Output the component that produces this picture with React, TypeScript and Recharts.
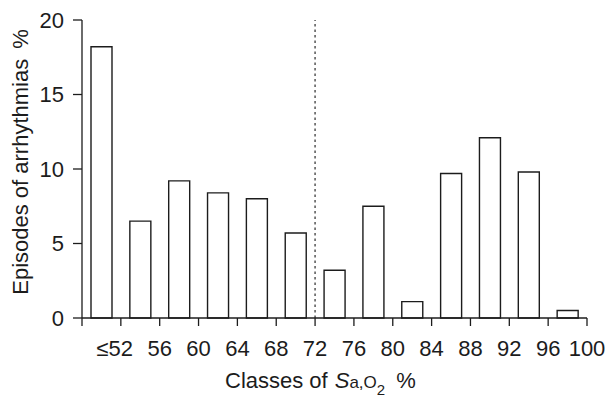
import React from 'react';
import { BarChart, Bar, XAxis, YAxis, ReferenceLine } from 'recharts';

// Class midpoints of SaO2 (%) – classes 48-52 (≤52), 52-56, ..., 96-100
const classMid = [50, 54, 58, 62, 66, 70, 74, 78, 82, 86, 90, 94, 98];
// Episodes of arrhythmias (%)
const episodes = [18.2, 6.5, 9.2, 8.4, 8.0, 5.7, 3.2, 7.5, 1.1, 9.7, 12.1, 9.8, 0.5];
// X tick values and their labels
const xTicks = [48, 52, 56, 60, 64, 68, 72, 76, 80, 84, 88, 92, 96, 100];
const xTickLabels = ['', '≤52', '56', '60', '64', '68', '72', '76', '80', '84', '88', '92', '96', '100'];
// Y ticks
const yTicks = [0, 5, 10, 15, 20];
const threshold = 72;

const data = classMid.map((m, i) => ({ mid: m, value: episodes[i] }));

const FONT = '"Liberation Sans", Arial, Helvetica, sans-serif';
const INK = '#1c1c1c';

const XTick = (props: any) => {
  const { x, y, payload } = props;
  const idx = xTicks.indexOf(payload.value);
  const label = idx >= 0 ? xTickLabels[idx] : '';
  if (!label) return <g />;
  if (label.startsWith('≤')) {
    const rest = label.slice(1);
    return (
      <g>
        <text x={x} y={y} dy="0.71em" textAnchor="middle" fontSize={22} fontFamily={FONT} fill={INK}>
          {rest}
        </text>
        <text x={x - 12.5} y={y} dy="0.71em" textAnchor="end" fontSize={22} fontFamily={FONT} fill={INK}>
          ≤
        </text>
      </g>
    );
  }
  return (
    <text x={x} y={y} dy="0.71em" textAnchor="middle" fontSize={22} fontFamily={FONT} fill={INK}>
      {label}
    </text>
  );
};

const XTitle = () => (
  <text x={225} y={388} fontSize={22} fontFamily={FONT} fill={INK}>
    <tspan>Classes of</tspan>
    <tspan dx={7} fontStyle="italic">S</tspan>
    <tspan fontSize={17}>a,O</tspan>
    <tspan fontSize={15} dy={7}>2</tspan>
    <tspan dx={11} dy={-7}>%</tspan>
  </text>
);

const YTitle = () => (
  <text
    x={28}
    y={162}
    transform="rotate(-90, 28, 162)"
    textAnchor="middle"
    fontSize={22}
    fontFamily={FONT}
    fill={INK}
  >
    <tspan>Episodes of arrhythmias</tspan>
    <tspan dx={10}>%</tspan>
  </text>
);

export default function App() {
  return (
    <div style={{ position: 'absolute', left: 0, top: 0, background: '#fff' }}>
      <BarChart
        width={608}
        height={399}
        data={data}
        margin={{ top: 20, right: 21, left: 0, bottom: 0 }}
      >
        <XAxis
          dataKey="mid"
          type="number"
          domain={[48, 100]}
          ticks={xTicks}
          interval={0}
          height={81}
          tickSize={8}
          tickMargin={14}
          tick={<XTick />}
          axisLine={{ stroke: INK, strokeWidth: 1.3 }}
          tickLine={{ stroke: INK, strokeWidth: 1.3 }}
          label={{ content: () => <XTitle /> }}
        />
        <YAxis
          type="number"
          domain={[0, 20]}
          ticks={yTicks}
          interval={0}
          width={82}
          tickSize={9}
          tickMargin={9}
          tick={{ fontSize: 22, fontFamily: FONT, fill: INK }}
          axisLine={{ stroke: INK, strokeWidth: 1.3 }}
          tickLine={{ stroke: INK, strokeWidth: 1.3 }}
          label={{ content: () => <YTitle /> }}
        />
        <ReferenceLine
          x={threshold}
          stroke="#555"
          strokeWidth={1.5}
          strokeDasharray="2.5 3"
          ifOverflow="extendDomain"
        />
        <Bar
          dataKey="value"
          barSize={21}
          fill="#fff"
          stroke={INK}
          strokeWidth={1.4}
          isAnimationActive={false}
        />
      </BarChart>
    </div>
  );
}
